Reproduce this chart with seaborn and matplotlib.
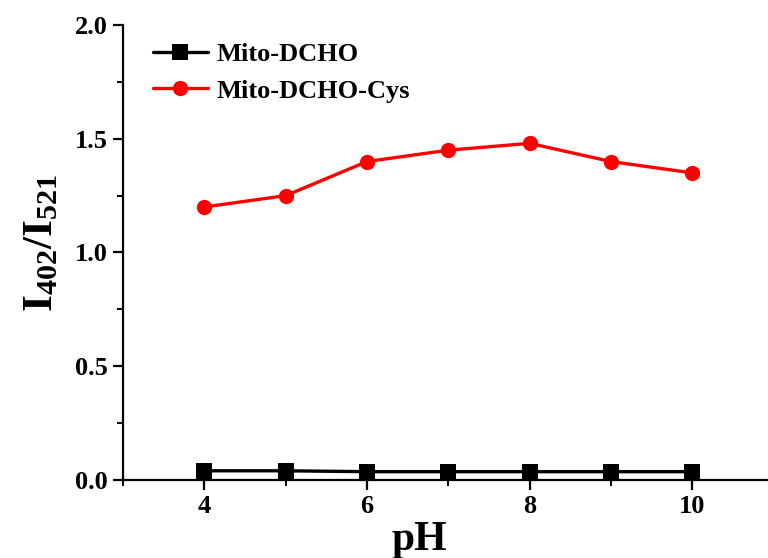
import numpy as np
import pandas as pd
import seaborn as sns
import matplotlib.pyplot as plt
from matplotlib.ticker import MultipleLocator

ph = [4, 5, 6, 7, 8, 9, 10]
probe_only = [0.040, 0.040, 0.036, 0.036, 0.036, 0.036, 0.036]
probe_cys = [1.20, 1.25, 1.40, 1.45, 1.48, 1.40, 1.35]
series_names = ["Mito-DCHO", "Mito-DCHO-Cys"]


def main():
    sns.set_style("ticks")
    plt.rcParams['font.family'] = ['Liberation Serif', 'DejaVu Serif']
    plt.rcParams['font.weight'] = 'bold'
    plt.rcParams['text.color'] = 'black'
    plt.rcParams['axes.labelcolor'] = 'black'
    plt.rcParams['xtick.color'] = 'black'
    plt.rcParams['ytick.color'] = 'black'
    plt.rcParams['axes.edgecolor'] = 'black'
    plt.rcParams['mathtext.fontset'] = 'custom'
    plt.rcParams['mathtext.rm'] = 'Liberation Serif:bold'
    plt.rcParams['mathtext.it'] = 'Liberation Serif:bold'
    plt.rcParams['mathtext.bf'] = 'Liberation Serif:bold'

    df = pd.DataFrame({
        "pH": ph * 2,
        "ratio": probe_only + probe_cys,
        "sample": [series_names[0]] * len(ph) + [series_names[1]] * len(ph),
    })

    fig = plt.figure(figsize=(7.68, 5.58), dpi=100)
    ax = fig.add_axes([0.16, 0.14, 0.84, 0.815])
    sns.lineplot(data=df, x="pH", y="ratio", hue="sample", style="sample",
                 palette={series_names[0]: "black", series_names[1]: "#ff0000"},
                 markers={series_names[0]: "s", series_names[1]: "o"},
                 dashes=False, markersize=11, markeredgewidth=0,
                 linewidth=2.4, ax=ax)

    ax.set_xlim(3, 10.93)
    ax.set_ylim(0, 2.0)
    ax.xaxis.set_major_locator(MultipleLocator(2))
    ax.xaxis.set_minor_locator(MultipleLocator(1))
    ax.yaxis.set_major_locator(MultipleLocator(0.5))
    ax.yaxis.set_minor_locator(MultipleLocator(0.25))
    ax.tick_params(which='major', direction='out', length=7, width=1.6, labelsize=19, pad=4)
    ax.tick_params(which='minor', direction='out', length=4, width=1.4)
    for lab in ax.get_xticklabels() + ax.get_yticklabels():
        lab.set_fontweight('bold')
    sns.despine(ax=ax)
    for sp in ['left', 'bottom']:
        ax.spines[sp].set_linewidth(1.6)

    ax.set_xlabel("pH", fontsize=30, fontweight='bold')
    ax.xaxis.set_label_coords(0.46, -0.09)
    ax.set_ylabel(r"I$_{402}$/I$_{521}$", fontsize=31, fontweight='bold')
    ax.yaxis.set_label_coords(-0.095, 0.52)

    leg = ax.legend(loc='upper left', bbox_to_anchor=(0.03, 0.985), frameon=False,
                    fontsize=19, handlelength=2.1, handletextpad=0.3,
                    labelspacing=0.5, borderaxespad=0)
    for t in leg.get_texts():
        t.set_fontweight('bold')

    fig.savefig("out.png", dpi=100)


if __name__ == "__main__":
    main()
